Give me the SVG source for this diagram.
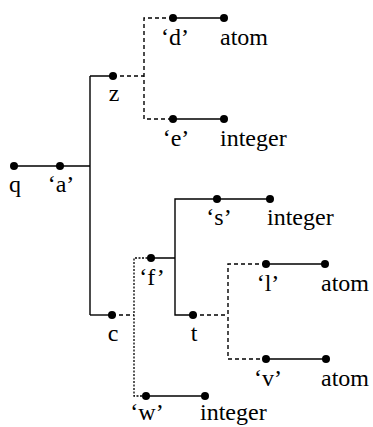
<svg xmlns="http://www.w3.org/2000/svg" width="373" height="427" viewBox="0 0 373 427">
<style>
.s{fill:none;stroke:#000;stroke-width:1.4}
.d{fill:none;stroke:#000;stroke-width:1.4;stroke-dasharray:4 3}
.o{fill:none;stroke:#000;stroke-width:1.3;stroke-dasharray:2 1.5}
.dot{fill:#000}
.m{text-anchor:middle}
</style>
<rect width="373" height="427" fill="#fff"/>
<g id="connectors">
<path class="s" d="M14,166H90M90,76V315M90,76H113"/>
<path class="d" d="M113,76H144M173,18H144V119H173"/>
<path class="s" d="M173,18H224M173,119H224"/>
<path class="s" d="M90,315H112"/>
<path class="d" d="M112,315H134"/>
<path class="o" d="M151,258H134V396H146"/>
<path class="s" d="M151,258H175M217,199H175V315H193M217,199H270"/>
<path class="d" d="M193,315H228M266,264H228V359H266"/>
<path class="s" d="M266,264H325M266,359H326"/>
<path class="s" d="M146,396H205"/>
</g>
<g font-family="'Liberation Serif', 'Times New Roman', serif" font-size="24" fill="#000">
<g id="n-q"><circle class="dot" cx="14" cy="166" r="4"/><text class="m" x="15" y="192">q</text></g>
<g id="n-a"><circle class="dot" cx="60" cy="166" r="4"/><text class="m" x="61" y="192">‘a’</text></g>
<g id="n-z"><circle class="dot" cx="113" cy="76" r="4"/><text class="m" x="114" y="101">z</text></g>
<g id="n-d"><circle class="dot" cx="173" cy="18" r="4"/><text class="m" x="175" y="45">‘d’</text></g>
<g id="n-d-atom"><circle class="dot" cx="224" cy="18" r="4"/><text x="220" y="45">atom</text></g>
<g id="n-e"><circle class="dot" cx="173" cy="119" r="4"/><text class="m" x="176" y="146">‘e’</text></g>
<g id="n-e-int"><circle class="dot" cx="224" cy="119" r="4"/><text x="220" y="146">integer</text></g>
<g id="n-c"><circle class="dot" cx="112" cy="315" r="4"/><text class="m" x="113" y="341">c</text></g>
<g id="n-f"><circle class="dot" cx="151" cy="258" r="4"/><text class="m" x="152" y="285">‘f’</text></g>
<g id="n-s"><circle class="dot" cx="217" cy="199" r="4"/><text class="m" x="219" y="225">‘s’</text></g>
<g id="n-s-int"><circle class="dot" cx="270" cy="199" r="4"/><text x="267" y="225">integer</text></g>
<g id="n-t"><circle class="dot" cx="193" cy="315" r="4"/><text class="m" x="194" y="341">t</text></g>
<g id="n-l"><circle class="dot" cx="266" cy="264" r="4"/><text class="m" x="268" y="291">‘l’</text></g>
<g id="n-l-atom"><circle class="dot" cx="325" cy="264" r="4"/><text x="321" y="291">atom</text></g>
<g id="n-v"><circle class="dot" cx="266" cy="359" r="4"/><text class="m" x="268" y="386">‘v’</text></g>
<g id="n-v-atom"><circle class="dot" cx="326" cy="359" r="4"/><text x="321" y="386">atom</text></g>
<g id="n-w"><circle class="dot" cx="146" cy="396" r="4"/><text class="m" x="147" y="420">‘w’</text></g>
<g id="n-w-int"><circle class="dot" cx="205" cy="396" r="4"/><text x="200" y="420">integer</text></g>
</g>
</svg>
